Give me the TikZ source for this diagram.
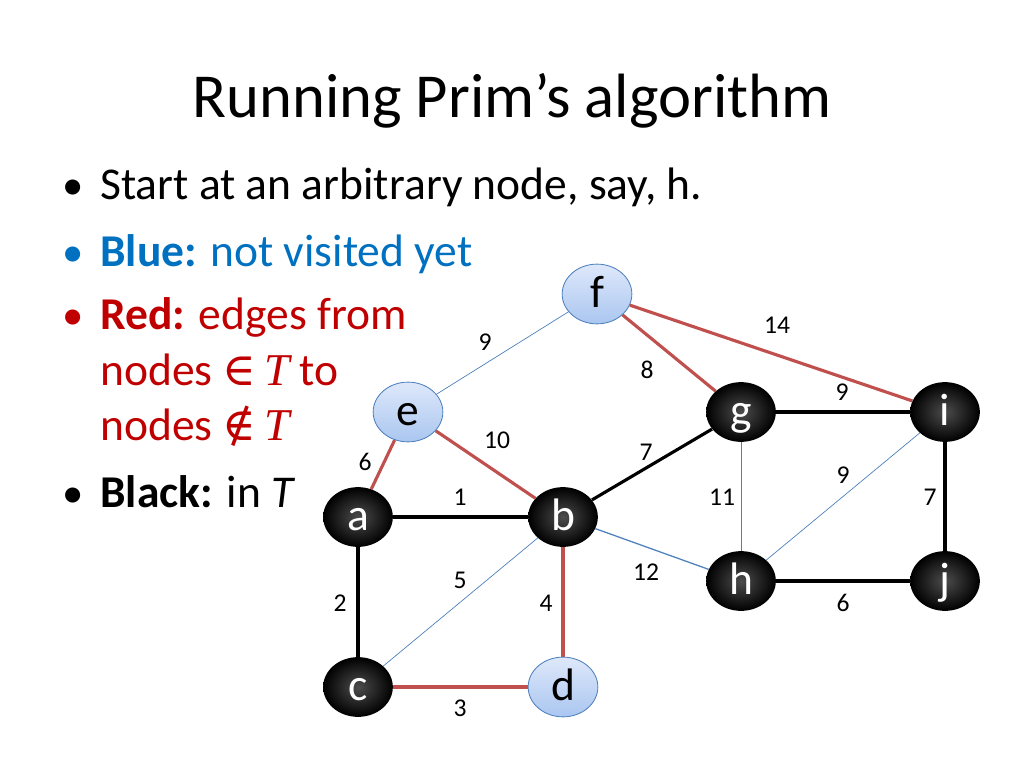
\documentclass[tikz,border=0pt]{standalone}
\usepackage{fontspec}
\setmainfont{Carlito}
\newfontfamily\symf{DejaVu Serif}
\newfontfamily\mathT{Liberation Serif}
\usetikzlibrary{shapes.geometric,backgrounds}
\definecolor{edgered}{RGB}{192,80,77}
\definecolor{edgeblue}{RGB}{79,129,189}
\definecolor{txtblue}{RGB}{0,112,192}
\definecolor{txtred}{RGB}{192,0,0}
\definecolor{nodetop}{RGB}{222,232,250}
\definecolor{nodebot}{RGB}{170,198,240}
\newcommand{\myT}{{\mathT\itshape T}}
\begin{document}
\begin{tikzpicture}[x=0.703125pt,y=-0.703125pt,
  vtx/.style={ellipse, minimum width=49pt, minimum height=42pt, inner sep=0pt, text height=21pt, text depth=2pt, font=\fontsize{32}{32}\selectfont},
  blk/.style={vtx, shading=radial, inner color=black!70!white, outer color=black, text=white},
  unv/.style={vtx, top color=nodetop, bottom color=nodebot, draw=edgeblue, line width=0.6pt},
  tree/.style={line width=2.2pt, black},
  cand/.style={line width=2.2pt, edgered},
  rest/.style={line width=0.5pt, edgeblue},
  lbl/.style={font=\fontsize{18}{18}\selectfont, inner sep=0pt},
  bul/.style={anchor=base west, inner sep=0pt, font=\fontsize{32}{32}\selectfont},
  dot/.style={anchor=base, inner sep=0pt, font=\fontsize{30}{30}\selectfont},
]
\useasboundingbox (0,0) rectangle (1024,768);

% title
\node[anchor=base, inner sep=0pt, font=\fontsize{44}{44}\selectfont] (title) at (512,118) {Running Prim’s algorithm};

% bullets
\node[dot] (d1) at (73,200) {•};
\node[bul] (t1) at (100,200) {Start at an arbitrary node, say, h.};
\node[dot, text=txtblue] (d2) at (73,267) {•};
\node[bul, text=txtblue] (t2) at (100,267) {\textbf{Blue:} not visited yet};
\node[dot, text=txtred] (d3) at (73,330) {•};
\node[bul, text=txtred] (t3) at (100,330) {\textbf{Red:} edges from};
\node[bul, text=txtred] (t3b) at (100,385) {nodes {\symf ∈}\,\myT\ to};
\node[bul, text=txtred] (t3c) at (100,440) {nodes {\symf ∉}\,\myT};
\node[dot] (d4) at (73,507) {•};
\node[bul] (t4) at (100,507) {\textbf{Black:} in \textit{T}};

% vertices
\node[unv] (f) at (597,294) {f};
\node[unv] (e) at (408,412) {e};
\node[blk] (g) at (741,412) {g};
\node[blk] (i) at (945,412) {i};
\node[blk] (a) at (358,517) {a};
\node[blk] (b) at (563,517) {b};
\node[blk] (h) at (741,581) {h};
\node[blk] (j) at (945,581) {j};
\node[blk] (c) at (358,687) {c};
\node[unv] (d) at (563,687) {d};

\begin{scope}[on background layer]
\draw[rest] (f) -- (e);
\draw[cand] (f) -- (g);
\draw[cand] (f) -- (i);
\draw[cand] (e) -- (a);
\draw[cand] (e) -- (b);
\draw[tree] (g) -- (b);
\draw[tree] (g) -- (i);
\draw[rest] (g) -- (h);
\draw[rest] (i) -- (h);
\draw[tree] (i) -- (j);
\draw[tree] (a) -- (b);
\draw[tree] (a) -- (c);
\draw[rest] (b) -- (c);
\draw[cand] (b) -- (d);
\draw[rest, line width=0.9pt] (b) -- (h);
\draw[tree] (h) -- (j);
\draw[cand] (c) -- (d);
\end{scope}

% edge weights
\node[lbl] (w1) at (485,342) {9};
\node[lbl] (w2) at (647,370) {8};
\node[lbl] (w3) at (777,325) {14};
\node[lbl] (w4) at (365,462) {6};
\node[lbl] (w5) at (497,440) {10};
\node[lbl] (w6) at (646,452) {7};
\node[lbl] (w7) at (842,392) {9};
\node[lbl] (w8) at (722,497) {11};
\node[lbl] (w9) at (843,475) {9};
\node[lbl] (w10) at (930,497) {7};
\node[lbl] (w11) at (460,497) {1};
\node[lbl] (w12) at (340,603) {2};
\node[lbl] (w13) at (460,580) {5};
\node[lbl] (w14) at (546,603) {4};
\node[lbl] (w15) at (646,572) {12};
\node[lbl] (w16) at (843,603) {6};
\node[lbl] (w17) at (460,708) {3};
\end{tikzpicture}
\end{document}
